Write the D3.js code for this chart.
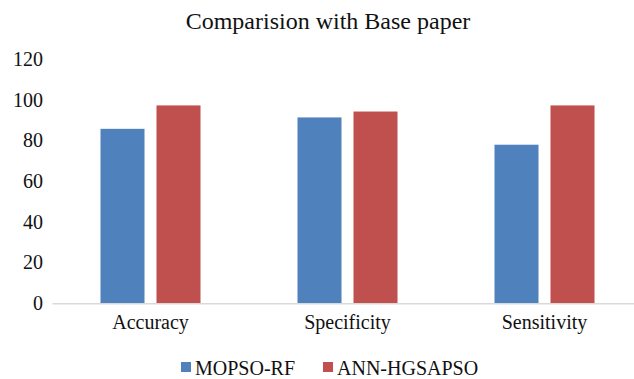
<!DOCTYPE html>
<html>
<head>
<meta charset="utf-8">
<script src="https://cdn.jsdelivr.net/npm/d3@7"></script>
<style>
  body { margin: 0; background: #fff; }
  svg text { font-family: "Liberation Serif", "Times New Roman", serif !important; fill: #111; }
</style>
</head>
<body>
<svg id="chart"></svg>
<script>
// Data
const categories = ["Accuracy", "Specificity", "Sensitivity"];
const seriesNames = ["MOPSO-RF", "ANN-HGSAPSO"];
const mopsoRF = [85.7, 91.3, 77.9];
const annHGSAPSO = [97.2, 94.2, 97.2];
const yTicks = [0, 20, 40, 60, 80, 100, 120];
const colors = ["#4F81BD", "#C0504D"];

const data = categories.map((c, i) => ({
  category: c,
  values: [
    { key: seriesNames[0], value: mopsoRF[i] },
    { key: seriesNames[1], value: annHGSAPSO[i] }
  ]
}));

// Chart Dimensions
const width = 634;
const height = 379;
const serif = '"Liberation Serif", "Times New Roman", serif';

const svg = d3
  .select("#chart")
  .attr("width", width)
  .attr("height", height);

// Scales
const x0 = d3.scaleBand().domain(categories).range([52, 643]);

const x1 = d3
  .scaleBand()
  .domain(seriesNames)
  .range([0, x0.bandwidth()])
  .paddingInner(0.214)
  .paddingOuter(0.866);

const y = d3.scaleLinear().domain([0, 120]).range([303.3, 59]);

const color = d3.scaleOrdinal().domain(seriesNames).range(colors);

// Title
svg
  .append("text")
  .attr("x", 328)
  .attr("y", 29)
  .attr("text-anchor", "middle")
  .style("font-size", "24px")
  .text("Comparision with Base paper");

// Y axis (labels only)
const yAxis = svg
  .append("g")
  .attr("transform", "translate(52,0)")
  .call(d3.axisLeft(y).tickValues(yTicks).tickSize(0).tickPadding(9))
  .attr("font-family", serif);
yAxis.select(".domain").remove();
yAxis.selectAll("text").style("font-size", "20px").style("font-family", serif);

// Bars
const groups = svg
  .selectAll(".group")
  .data(data)
  .enter()
  .append("g")
  .attr("class", "group")
  .attr("transform", (d) => `translate(${x0(d.category)},0)`);

groups
  .selectAll("rect")
  .data((d) => d.values)
  .enter()
  .append("rect")
  .attr("x", (d) => x1(d.key))
  .attr("y", (d) => y(d.value))
  .attr("width", x1.bandwidth())
  .attr("height", (d) => y(0) - y(d.value))
  .attr("fill", (d) => color(d.key));

// X axis
const xAxis = svg
  .append("g")
  .attr("transform", `translate(0,${y(0)})`)
  .call(d3.axisBottom(x0).tickSize(0).tickPadding(12))
  .attr("font-family", serif);
xAxis.select(".domain").attr("stroke", "#D9D9D9").attr("stroke-width", 1.5);
xAxis.selectAll("text").style("font-size", "20px").style("font-family", serif);

// Legend
const legendX = [181, 323];
const legend = svg
  .selectAll(".legend")
  .data(seriesNames)
  .enter()
  .append("g")
  .attr("class", "legend")
  .attr("transform", (d, i) => `translate(${legendX[i]},362)`);

legend
  .append("rect")
  .attr("width", 10)
  .attr("height", 10)
  .attr("fill", (d) => color(d));

legend
  .append("text")
  .attr("x", 14)
  .attr("y", 13)
  .style("font-size", "20px")
  .text((d) => d);
</script>
</body>
</html>
